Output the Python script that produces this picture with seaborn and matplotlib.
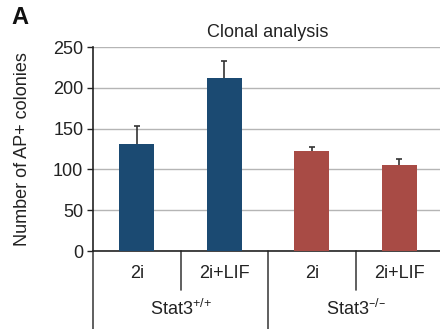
import matplotlib
matplotlib.use("Agg")
import matplotlib.pyplot as plt
import seaborn as sns
import pandas as pd
import numpy as np

# Values
conditions = ["2i", "2i+LIF", "2i", "2i+LIF"]
genotypes = ["Stat3$^{{+}/{+}}$", "Stat3$^{{–}/{–}}$"]
colonies = [131, 212, 122, 105]
errors = [22, 21, 5.5, 8]
yticks = [0, 50, 100, 150, 200, 250]

blue = "#1b4a72"
red = "#a84b45"
fs = 13

sns.set_style("white")
plt.rcParams["font.family"] = ["Liberation Sans", "DejaVu Sans"]
plt.rcParams["mathtext.default"] = "regular"

df = pd.DataFrame({
    "pos": ["a", "b", "c", "d"],
    "colonies": colonies,
    "genotype": ["wt", "wt", "ko", "ko"],
})

fig = plt.figure(figsize=(4.4, 3.29), dpi=100)
ax = fig.add_axes([93 / 440, 78 / 329, 350 / 440, 204 / 329])

sns.barplot(data=df, x="pos", y="colonies", hue="genotype",
            palette={"wt": blue, "ko": red}, width=0.4, dodge=False,
            saturation=1, linewidth=0, legend=False, ax=ax, zorder=3)
x = np.arange(len(colonies))
eb = ax.errorbar(x, colonies, yerr=[np.zeros(len(errors)), errors], fmt="none",
                 ecolor="#333333", elinewidth=1.2, capsize=2.5, capthick=1.2, zorder=4)
# only the upper caps, like the reference
eb[1][0].set_visible(False)

ax.set_xlim(-0.5, 3.5)
ax.set_ylim(0, 250)
ax.set_yticks(yticks)
ax.tick_params(axis="y", labelsize=fs, length=4, width=1, direction="out",
               left=True, pad=3, colors="#222222")
ax.yaxis.grid(True, color="#b5b5b5", linewidth=1, zorder=0)
ax.set_axisbelow(True)
ax.set_xticks([])
ax.set_xlabel("")
ax.set_ylabel("Number of AP+ colonies", fontsize=fs, color="#222222", labelpad=16)
ax.set_title("Clonal analysis", fontsize=fs, color="#222222", pad=7)

for side in ["top", "right"]:
    ax.spines[side].set_visible(False)
for side in ["left", "bottom"]:
    ax.spines[side].set_color("#222222")
    ax.spines[side].set_linewidth(1.2)

tr = ax.get_xaxis_transform()
# separators below the axis
for xs in [0.5, 2.5]:
    ax.plot([xs, xs], [0, -0.19], transform=tr, color="#444444", lw=1.2, clip_on=False)
for xs in [-0.5, 1.5]:
    ax.plot([xs, xs], [0, -0.45], transform=tr, color="#444444", lw=1.2, clip_on=False)

for xi, lab in zip(x, conditions):
    ax.text(xi, -0.108, lab, transform=tr, ha="center", va="center",
            fontsize=fs, color="#222222")
for gi, lab in enumerate(genotypes):
    ax.text(0.5 + 2 * gi, -0.285, lab, transform=tr, ha="center", va="center",
            fontsize=fs, color="#222222")

fig.text(11 / 440, 1 - 17 / 329, "A", fontsize=17, fontweight="bold",
         ha="left", va="center", color="#111111")

fig.savefig("out.png", dpi=100)
